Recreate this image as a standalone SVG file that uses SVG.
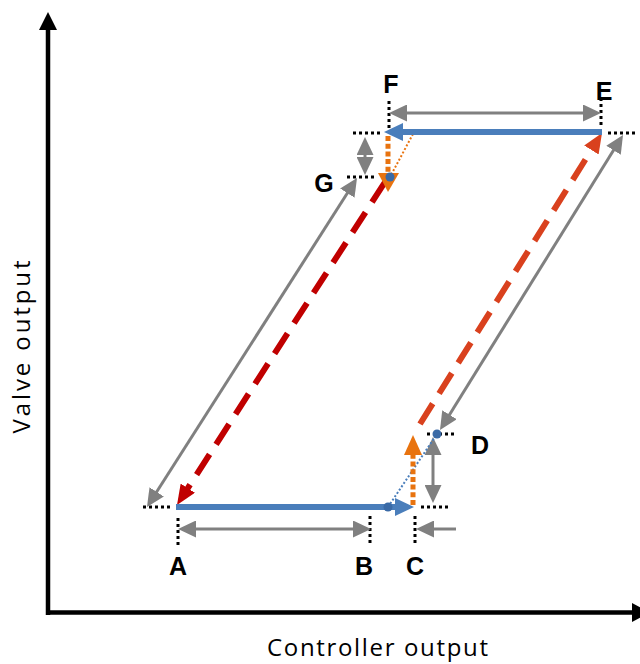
<svg xmlns="http://www.w3.org/2000/svg" width="640" height="664" viewBox="0 0 640 664">
<style>
.lbl{font-family:"Liberation Sans",Arial,sans-serif;font-weight:bold;font-size:25px;fill:#000;text-anchor:middle}
.axlbl{font-family:"Open Sans","Liberation Sans",sans-serif;font-size:24px;fill:#000;text-anchor:middle}
.dot{stroke:#000;stroke-width:3;stroke-dasharray:3 3;fill:none}
.gray{stroke:#808080;stroke-width:3;fill:none;marker-end:url(#ga)}
.gray2{stroke:#808080;stroke-width:3;fill:none;marker-end:url(#ga);marker-start:url(#ga)}
.blue{stroke:#4A7EBB;stroke-width:6;fill:none}
.bluedot{fill:#3A6AA6}
.orange{stroke:#E8730F;stroke-width:5;stroke-dasharray:5 2.7;fill:none}
.thinb{stroke:#4A7EBB;stroke-width:2;stroke-dasharray:2 2;fill:none}
.thino{stroke:#E8730F;stroke-width:2;stroke-dasharray:2 2;fill:none}
.redE{stroke:#D9411E;stroke-width:6;stroke-dasharray:24 12;fill:none;marker-end:url(#rE)}
.redA{stroke:#C00000;stroke-width:6;stroke-dasharray:24 12;fill:none;marker-end:url(#rA)}
</style>
<defs>
<marker id="ga" viewBox="0 0 18 17" markerWidth="18" markerHeight="17" refX="10" refY="8.5" orient="auto-start-reverse" markerUnits="userSpaceOnUse"><path d="M0,0 L18,8.5 L0,17 z" fill="#808080"/></marker>
<marker id="rE" viewBox="0 0 20 17" markerWidth="20" markerHeight="17" refX="10" refY="8.5" orient="auto" markerUnits="userSpaceOnUse"><path d="M0,0 L20,8.5 L0,17 z" fill="#D9411E"/></marker>
<marker id="rA" viewBox="0 0 20 17" markerWidth="20" markerHeight="17" refX="10" refY="8.5" orient="auto" markerUnits="userSpaceOnUse"><path d="M0,0 L20,8.5 L0,17 z" fill="#C00000"/></marker>
</defs>
<rect width="640" height="664" fill="#fff"/>
<g id="axes">
<line x1="48" y1="615" x2="48" y2="28" stroke="#000" stroke-width="4.5"/>
<polygon points="48,12 57,30 39,30" fill="#000"/>
<line x1="46" y1="612.5" x2="634" y2="612.5" stroke="#000" stroke-width="4.5"/>
<polygon points="632,603 650,612.5 632,622" fill="#000"/>
<text class="axlbl" x="377.5" y="656" textLength="221" lengthAdjust="spacing">Controller output</text>
<text class="axlbl" transform="translate(30,347) rotate(-90)" textLength="173" lengthAdjust="spacing">Valve output</text>
</g>
<g id="guides">
<line class="dot" x1="143" y1="507" x2="172" y2="507"/>
<line class="dot" x1="421" y1="507" x2="450" y2="507"/>
<line class="dot" x1="427" y1="434" x2="455" y2="434"/>
<line class="dot" x1="608" y1="133" x2="637" y2="133"/>
<line class="dot" x1="353" y1="133" x2="383" y2="133"/>
<line class="dot" x1="347" y1="177" x2="377" y2="177"/>
<line class="dot" x1="178" y1="518" x2="178" y2="546"/>
<line class="dot" x1="370" y1="516" x2="370" y2="544"/>
<line class="dot" x1="415" y1="516" x2="415" y2="544"/>
<line class="dot" x1="389" y1="101" x2="389" y2="129"/>
<line class="dot" x1="601" y1="98" x2="601" y2="128"/>
</g>
<g id="connectors">
<line class="gray2" x1="186" y1="529" x2="363" y2="529"/>
<line class="gray2" x1="397" y1="113" x2="593" y2="113"/>
<line class="gray2" x1="433" y1="445" x2="433" y2="495"/>
<line class="gray2" x1="365" y1="145" x2="365" y2="167"/>
<line class="gray" x1="456" y1="529" x2="424" y2="529"/>
<line class="gray2" x1="151.3" y1="500.3" x2="352.7" y2="184.7"/>
<line class="gray2" x1="444.2" y1="423.2" x2="618.8" y2="141.8"/>
<line class="thinb" x1="388" y1="507" x2="437" y2="434"/>
<line class="thino" x1="413" y1="134" x2="390" y2="177"/>
<line class="redE" x1="420" y1="424" x2="596.7" y2="141.5"/>
<line class="redA" x1="385" y1="182" x2="182.4" y2="496.6"/>
<line class="orange" x1="413" y1="505" x2="413" y2="455"/>
<polygon points="404,455 413,435 422,455" fill="#E8730F"/>
<line class="orange" x1="388" y1="136" x2="388" y2="174"/>
<polygon points="378,173 399,173 388,192" fill="#E8730F"/>
<line class="blue" x1="176" y1="507" x2="397" y2="507"/>
<polygon points="395,498 414,507 395,516" fill="#4A7EBB"/>
<line class="blue" x1="602" y1="132" x2="401" y2="132"/>
<polygon points="403,123 384,132 403,141" fill="#4A7EBB"/>
<circle class="bluedot" cx="388" cy="507" r="4.5"/>
<circle class="bluedot" cx="437" cy="434" r="4.5"/>
<circle class="bluedot" cx="390" cy="177" r="4.5"/>
</g>
<g id="A"><text class="lbl" x="178" y="575">A</text></g>
<g id="B"><text class="lbl" x="364" y="575">B</text></g>
<g id="C"><text class="lbl" x="415" y="575">C</text></g>
<g id="D"><text class="lbl" x="480" y="454">D</text></g>
<g id="E"><text class="lbl" x="604" y="100">E</text></g>
<g id="F"><text class="lbl" x="391" y="93">F</text></g>
<g id="G"><text class="lbl" x="324" y="192">G</text></g>
</svg>
